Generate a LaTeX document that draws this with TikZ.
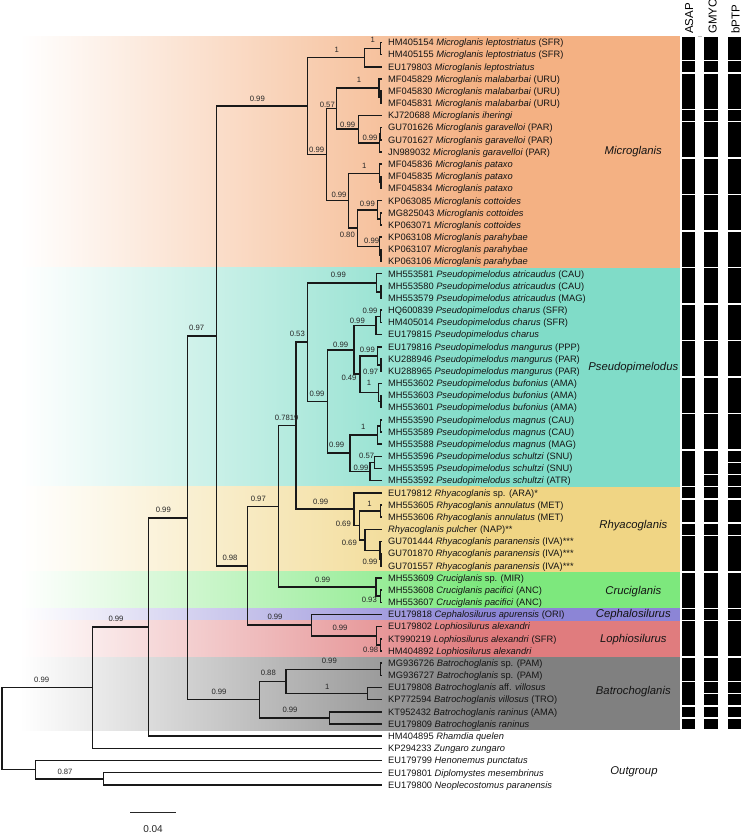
\documentclass[tikz,border=0pt]{standalone}
\usepackage{fontspec}
\setmainfont{Liberation Sans}
\definecolor{cM}{HTML}{F4B183}
\definecolor{cP}{HTML}{80DCC8}
\definecolor{cR}{HTML}{F0D584}
\definecolor{cC}{HTML}{7DE87D}
\definecolor{cE}{HTML}{8C85D6}
\definecolor{cL}{HTML}{E07C7E}
\definecolor{cB}{HTML}{808080}
\newcommand\leafrow[2]{\coordinate (t#1) at (381.5,#1); \node[leaf] (lab#1) at (388,#1) {#2};}
\newcommand\bandrow[3]{\shade[left color=white, right color=#1] (20,#2) rectangle (480,#3); \fill[#1] (479.5,#2) rectangle (680,#3);}
\begin{document}
\begin{tikzpicture}[x=1pt,y=-1pt]
\tikzset{
 br/.style={line width=1.5pt, draw=black!90},
 leaf/.style={anchor=base west, inner sep=0pt, font=\fontsize{9.3}{10}\selectfont, text=black!92, yshift=-3.3pt},
 bs/.style={inner sep=0pt, font=\fontsize{7.7}{8}\selectfont, text=black!85},
 clade/.style={anchor=base, inner sep=0pt, font=\fontsize{11.3}{12}\selectfont\itshape, yshift=-4pt, text=black!92},
 hdr/.style={rotate=90, anchor=base west, inner sep=0pt, font=\fontsize{11.5}{12}\selectfont},
}
\useasboundingbox (0,0) rectangle (742,840);
\begin{scope}[y=-12.17pt, yshift=-30.33pt]
% ---- bands
\bandrow{cM}{0.5}{19.5}
\bandrow{cP}{19.5}{37.5}
\bandrow{cR}{37.5}{44.5}
\bandrow{cC}{44.5}{47.5}
\bandrow{cE}{47.5}{48.5}
\bandrow{cL}{48.5}{51.5}
\bandrow{cB}{51.5}{57.5}
% ---- leaves
\leafrow{1}{HM405154 \textit{Microglanis leptostriatus} (SFR)}
\leafrow{2}{HM405155 \textit{Microglanis leptostriatus} (SFR)}
\leafrow{3}{EU179803 \textit{Microglanis leptostriatus}}
\leafrow{4}{MF045829 \textit{Microglanis malabarbai} (URU)}
\leafrow{5}{MF045830 \textit{Microglanis malabarbai} (URU)}
\leafrow{6}{MF045831 \textit{Microglanis malabarbai} (URU)}
\leafrow{7}{KJ720688 \textit{Microglanis iheringi}}
\leafrow{8}{GU701626 \textit{Microglanis garavelloi} (PAR)}
\leafrow{9}{GU701627 \textit{Microglanis garavelloi} (PAR)}
\leafrow{10}{JN989032 \textit{Microglanis garavelloi} (PAR)}
\leafrow{11}{MF045836 \textit{Microglanis pataxo}}
\leafrow{12}{MF045835 \textit{Microglanis pataxo}}
\leafrow{13}{MF045834 \textit{Microglanis pataxo}}
\leafrow{14}{KP063085 \textit{Microglanis cottoides}}
\leafrow{15}{MG825043 \textit{Microglanis cottoides}}
\leafrow{16}{KP063071 \textit{Microglanis cottoides}}
\leafrow{17}{KP063108 \textit{Microglanis parahybae}}
\leafrow{18}{KP063107 \textit{Microglanis parahybae}}
\leafrow{19}{KP063106 \textit{Microglanis parahybae}}
\leafrow{20}{MH553581 \textit{Pseudopimelodus atricaudus} (CAU)}
\leafrow{21}{MH553580 \textit{Pseudopimelodus atricaudus} (CAU)}
\leafrow{22}{MH553579 \textit{Pseudopimelodus atricaudus} (MAG)}
\leafrow{23}{HQ600839 \textit{Pseudopimelodus charus} (SFR)}
\leafrow{24}{HM405014 \textit{Pseudopimelodus charus} (SFR)}
\leafrow{25}{EU179815 \textit{Pseudopimelodus charus}}
\leafrow{26}{EU179816 \textit{Pseudopimelodus mangurus} (PPP)}
\leafrow{27}{KU288946 \textit{Pseudopimelodus mangurus} (PAR)}
\leafrow{28}{KU288965 \textit{Pseudopimelodus mangurus} (PAR)}
\leafrow{29}{MH553602 \textit{Pseudopimelodus bufonius} (AMA)}
\leafrow{30}{MH553603 \textit{Pseudopimelodus bufonius} (AMA)}
\leafrow{31}{MH553601 \textit{Pseudopimelodus bufonius} (AMA)}
\leafrow{32}{MH553590 \textit{Pseudopimelodus magnus} (CAU)}
\leafrow{33}{MH553589 \textit{Pseudopimelodus magnus} (CAU)}
\leafrow{34}{MH553588 \textit{Pseudopimelodus magnus} (MAG)}
\leafrow{35}{MH553596 \textit{Pseudopimelodus schultzi} (SNU)}
\leafrow{36}{MH553595 \textit{Pseudopimelodus schultzi} (SNU)}
\leafrow{37}{MH553592 \textit{Pseudopimelodus schultzi} (ATR)}
\leafrow{38}{EU179812 \textit{Rhyacoglanis} sp. (ARA)*}
\leafrow{39}{MH553605 \textit{Rhyacoglanis annulatus} (MET)}
\leafrow{40}{MH553606 \textit{Rhyacoglanis annulatus} (MET)}
\leafrow{41}{\textit{Rhyacoglanis pulcher} (NAP)**}
\leafrow{42}{GU701444 \textit{Rhyacoglanis paranensis} (IVA)***}
\leafrow{43}{GU701870 \textit{Rhyacoglanis paranensis} (IVA)***}
\leafrow{44}{GU701557 \textit{Rhyacoglanis paranensis} (IVA)***}
\leafrow{45}{MH553609 \textit{Cruciglanis} sp. (MIR)}
\leafrow{46}{MH553608 \textit{Cruciglanis pacifici} (ANC)}
\leafrow{47}{MH553607 \textit{Cruciglanis pacifici} (ANC)}
\leafrow{48}{EU179818 \textit{Cephalosilurus apurensis} (ORI)}
\leafrow{49}{EU179802 \textit{Lophiosilurus alexandri}}
\leafrow{50}{KT990219 \textit{Lophiosilurus alexandri} (SFR)}
\leafrow{51}{HM404892 \textit{Lophiosilurus alexandri}}
\leafrow{52}{MG936726 \textit{Batrochoglanis} sp. (PAM)}
\leafrow{53}{MG936727 \textit{Batrochoglanis} sp. (PAM)}
\leafrow{54}{EU179808 \textit{Batrochoglanis} aff. \textit{villosus}}
\leafrow{55}{KP772594 \textit{Batrochoglanis villosus} (TRO)}
\leafrow{56}{KT952432 \textit{Batrochoglanis raninus} (AMA)}
\leafrow{57}{EU179809 \textit{Batrochoglanis raninus}}
\leafrow{58}{HM404895 \textit{Rhamdia quelen}}
\leafrow{59}{KP294233 \textit{Zungaro zungaro}}
\leafrow{60}{EU179799 \textit{Henonemus punctatus}}
\leafrow{61}{EU179801 \textit{Diplomystes mesembrinus}}
\leafrow{62}{EU179800 \textit{Neoplecostomus paranensis}}
% ---- internal nodes
\coordinate (m1) at (380.5,1.5);
\coordinate (m2) at (364.3,2.25);
\coordinate (m3a) at (381,5.5);
\coordinate (m3) at (379,4.75);
\coordinate (m4a) at (380.5,8.5);
\coordinate (m4) at (379.5,9.25);
\coordinate (m5) at (358.3,8.125);
\coordinate (m6) at (336.7,6.4375);
\coordinate (m7a) at (381,12.5);
\coordinate (m7) at (379.5,11.75);
\coordinate (m8a) at (380.5,15.5);
\coordinate (m8) at (377.3,14.75);
\coordinate (m9a) at (381,18.5);
\coordinate (m9) at (379.5,17.75);
\coordinate (m10) at (357.3,16.25);
\coordinate (m11) at (348.3,14);
\coordinate (m12) at (326.7,10.21875);
\coordinate (m13) at (307.3,6.234375);
\coordinate (p1a) at (381,21.5);
\coordinate (p1) at (376.7,20.75);
\coordinate (p2a) at (380.5,23.5);
\coordinate (p2) at (376,24.25);
\coordinate (p3a) at (381,27.5);
\coordinate (p3) at (377.3,26.75);
\coordinate (p4a) at (381,30.5);
\coordinate (p4) at (378.5,29.75);
\coordinate (p5) at (360,28.25);
\coordinate (p6) at (354,26.25);
\coordinate (p7a) at (380.5,32.5);
\coordinate (p7m) at (377.7,33.25);
\coordinate (p7sa) at (374.3,35.5);
\coordinate (p7s) at (370,36.25);
\coordinate (p7) at (350,34.75);
\coordinate (p8) at (327.7,30.5);
\coordinate (p9) at (307.7,25.625);
\coordinate (r1) at (380.5,39.5);
\coordinate (r2pa) at (381,43.5);
\coordinate (r2p) at (380,42.75);
\coordinate (r2) at (365,41.875);
\coordinate (r3) at (359.3,40.6875);
\coordinate (r4) at (354,39.34375);
\coordinate (n8) at (296,32.484375);
\coordinate (c1a) at (380.5,46.5);
\coordinate (c1) at (376,45.75);
\coordinate (n6) at (278.3,39.1171875);
\coordinate (lo1a) at (380.5,50.5);
\coordinate (lo1) at (376.7,49.75);
\coordinate (n7) at (311.7,48.875);
\coordinate (n5) at (247.3,43.99609);
\coordinate (n4) at (216.7,25.11523);
\coordinate (b1) at (380.5,52.5);
\coordinate (b2) at (367.7,54.5);
\coordinate (b3) at (286,53.5);
\coordinate (b4) at (329.3,56.5);
\coordinate (b5) at (259.3,55);
\coordinate (n3) at (187.3,40.0576);
\coordinate (n2) at (148.3,49.0288);
\coordinate (n1) at (92.3,54.0144);
\coordinate (o1) at (103.3,61.5);
\coordinate (o2) at (35.5,60.75);
\coordinate (root) at (2,57.3822);
% ---- branches
\foreach \p/\c in {m1/t1,m1/t2,m2/m1,m2/t3,m3a/t5,m3a/t6,m3/t4,m3/m3a,m4a/t8,m4a/t9,m4/m4a,m4/t10,m5/t7,m5/m4,m6/m3,m6/m5,m7a/t12,m7a/t13,m7/t11,m7/m7a,m8a/t15,m8a/t16,m8/t14,m8/m8a,m9a/t18,m9a/t19,m9/t17,m9/m9a,m10/m8,m10/m9,m11/m7,m11/m10,m12/m6,m12/m11,m13/m2,m13/m12,
p1a/t21,p1a/t22,p1/t20,p1/p1a,p2a/t23,p2a/t24,p2/p2a,p2/t25,p3a/t27,p3a/t28,p3/t26,p3/p3a,p4a/t30,p4a/t31,p4/t29,p4/p4a,p5/p3,p5/p4,p6/p2,p6/p5,p7a/t32,p7a/t33,p7m/p7a,p7m/t34,p7sa/t35,p7sa/t36,p7s/p7sa,p7s/t37,p7/p7m,p7/p7s,p8/p6,p8/p7,p9/p1,p9/p8,
r1/t39,r1/t40,r2pa/t43,r2pa/t44,r2p/t42,r2p/r2pa,r2/t41,r2/r2p,r3/r1,r3/r2,r4/t38,r4/r3,n8/p9,n8/r4,
c1a/t46,c1a/t47,c1/t45,c1/c1a,n6/n8,n6/c1,
lo1a/t50,lo1a/t51,lo1/t49,lo1/lo1a,n7/t48,n7/lo1,n5/n6,n5/n7,n4/m13,n4/n5,
b1/t52,b1/t53,b2/t54,b2/t55,b3/b1,b3/b2,b4/t56,b4/t57,b5/b3,b5/b4,n3/n4,n3/b5,n2/n3,n2/t58,n1/n2,n1/t59,o1/t61,o1/t62,o2/t60,o2/o1,root/n1,root/o2}
  \draw[br] (\p) |- (\c);
% ---- delimitation bars
\foreach \xa/\xb in {682/695,704/717.5,727.5/741}{
  \foreach \a/\b in {1/2,3/3,4/6,7/7,8/10,11/13,14/16,17/19,20/22,23/25,26/28,29/31,32/34,38/38,39/40,41/41,42/44,45/47,48/48,49/51,52/53,56/56,57/57}
    \fill[black] (\xa,{\a-0.44}) rectangle (\xb,{\b+0.44});
}
\foreach \a/\b in {35/37,54/55} \fill[black] (682,{\a-0.44}) rectangle (695,{\b+0.44});
\foreach \a/\b in {35/36,37/37,54/54,55/55} \fill[black] (704,{\a-0.44}) rectangle (717.5,{\b+0.44});
\foreach \a/\b in {35/35,36/36,37/37,54/54,55/55} \fill[black] (727.5,{\a-0.44}) rectangle (741,{\b+0.44});
\end{scope}
% ---- headers
\node[hdr] (hasap) at (693,34) {ASAP};
\node[hdr] (hgmyc) at (716.7,34) {GMYC};
\node[hdr] (hbptp) at (739.5,34) {bPTP};
\draw[gray!50, line width=0.9pt] (697.5,36) -- (702,36);
% ---- clade names
\node[clade] (kM) at (633.3,150) {Microglanis};
\node[clade] (kP) at (633.3,366) {Pseudopimelodus};
\node[clade] (kR) at (633.3,524.3) {Rhyacoglanis};
\node[clade] (kC) at (633.3,590) {Cruciglanis};
\node[clade] (kE) at (633.3,613) {Cephalosilurus};
\node[clade] (kL) at (633.3,638.3) {Lophiosilurus};
\node[clade] (kB) at (633.3,690) {Batrochoglanis};
\node[clade] (kO) at (634,770) {Outgroup};
% ---- support values
\node[bs] (s1) at (372.7,40) {1};
\node[bs] (s2) at (336.7,50) {1};
\node[bs] (s3) at (359,80) {1};
\node[bs] (s4) at (327.3,105) {0.57};
\node[bs] (s5) at (347.7,125) {0.99};
\node[bs] (s6) at (370,138.3) {0.99};
\node[bs] (s7) at (316.7,150) {0.99};
\node[bs] (s8) at (364.3,165.7) {1};
\node[bs] (s9) at (339,195) {0.99};
\node[bs] (s10) at (367.3,204) {0.99};
\node[bs] (s11) at (347.3,235) {0.80};
\node[bs] (s12) at (371.7,241) {0.99};
\node[bs] (s13) at (257.3,99) {0.99};
\node[bs] (s14) at (338.3,275) {0.99};
\node[bs] (s15) at (370,311) {0.99};
\node[bs] (s16) at (357.3,320.7) {0.99};
\node[bs] (s17) at (297.3,334.3) {0.53};
\node[bs] (s18) at (340.7,345) {0.99};
\node[bs] (s19) at (367.3,350) {0.99};
\node[bs] (s20) at (370.7,371.7) {0.97};
\node[bs] (s21) at (349,377.7) {0.49};
\node[bs] (s22) at (369,383.3) {1};
\node[bs] (s23) at (317,394) {0.99};
\node[bs] (s24) at (286.7,418) {0.7819};
\node[bs] (s25) at (363.3,426.7) {1};
\node[bs] (s26) at (336.7,445) {0.99};
\node[bs] (s27) at (366.7,455.7) {0.57};
\node[bs] (s28) at (361,467.7) {0.99};
\node[bs] (s29) at (320.7,502.3) {0.99};
\node[bs] (s30) at (369.5,503.5) {1};
\node[bs] (s31) at (343.3,524.3) {0.69};
\node[bs] (s32) at (349.3,542.5) {0.69};
\node[bs] (s33) at (370,562) {0.99};
\node[bs] (s34) at (196.7,328.3) {0.97};
\node[bs] (s35) at (258.3,499) {0.97};
\node[bs] (s36) at (163.3,510) {0.99};
\node[bs] (s37) at (230,558.3) {0.98};
\node[bs] (s38) at (322.7,580) {0.99};
\node[bs] (s39) at (369.3,600) {0.93};
\node[bs] (s40) at (275,617) {0.99};
\node[bs] (s41) at (116,619) {0.99};
\node[bs] (s42) at (340,628) {0.99};
\node[bs] (s43) at (370.7,650) {0.98};
\node[bs] (s44) at (329.3,661) {0.99};
\node[bs] (s45) at (268.3,673.3) {0.88};
\node[bs] (s46) at (41.7,680) {0.99};
\node[bs] (s47) at (327.3,686.7) {1};
\node[bs] (s48) at (219,692) {0.99};
\node[bs] (s49) at (290,710) {0.99};
\node[bs] (s50) at (65,772) {0.87};
% ---- scale bar
\coordinate (sb1) at (130,812);
\coordinate (sb2) at (176,812);
\draw[line width=1pt, black!85] (sb1) -- (sb2);
\node[inner sep=0pt, font=\fontsize{10}{11}\selectfont, text=black!85] (sbl) at (153,829) {0.04};
\end{tikzpicture}
\end{document}
